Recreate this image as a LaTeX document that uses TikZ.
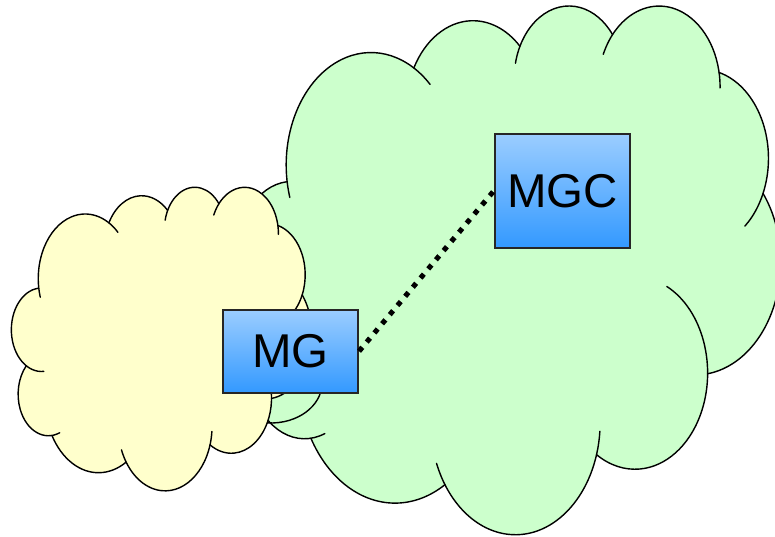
\documentclass[tikz,border=0pt]{standalone}
\usepackage{fontspec}
\setmainfont{Liberation Sans}

\definecolor{netgreen}{RGB}{204,255,204}
\definecolor{netyellow}{RGB}{255,255,204}
\definecolor{gatetop}{RGB}{155,205,255}
\definecolor{gatebottom}{RGB}{51,153,255}

% cloud outline in a 432 x 432 box, one lobe per entry:
% centre x / centre y / x radius / y radius / fill arc from / to / line from / to
\newcommand{\cloudlobes}{%
  105.91/131.32/67.53/91.90/-187.75/-59.63/-196.81/-45.74,%
  187.16/86.09/53.33/72.67/-152.05/-45.46/-152.05/-45.46,%
  263.63/60.83/43.65/59.45/-153.49/-37.35/-167.72/-37.35,%
  335.38/67.41/48.57/65.95/-139.71/-10.21/-156.29/0.82,%
  369.17/125.90/53.33/72.73/-74.77/23.21/-74.77/49.65,%
  364.45/210.70/67.75/92.20/-37.52/81.86/-37.52/81.86,%
  316.19/301.34/57.85/78.67/0.46/121.97/-64.03/121.97,%
  220.94/341.39/67.52/92.15/16.84/146.21/4.74/158.47,%
  125.05/302.28/77.20/105.43/58.98/150.20/58.98/150.20,%
  52.98/295.90/43.60/59.18/83.31/223.08/68.24/223.08,%
  43.09/204.20/43.45/59.45/120.36/264.11/85.55/264.11}

% fill the cloud, then stroke every lobe (the inner tails included)
\newcommand{\drawcloud}[1]{%
  \fill[#1] (39.00,143.70)
    \foreach \cx/\cy/\rx/\ry/\fa/\fb/\la/\lb in \cloudlobes {
      arc[start angle=\fa, end angle=\fb, x radius=\rx, y radius=\ry]
    } -- cycle;
  \foreach \cx/\cy/\rx/\ry/\fa/\fb/\la/\lb in \cloudlobes
    \draw[cloudline] (\cx,\cy) ++({\rx*cos(\la)},{\ry*sin(\la)})
      arc[start angle=\la, end angle=\lb, x radius=\rx, y radius=\ry];%
}

\begin{document}
\begin{tikzpicture}[
    x=0.02cm, y=-0.02cm,
    cloudline/.style={draw=black, line width=0.8pt, line cap=round},
    gatebox/.style={draw=black!85, line width=1.2pt, top color=gatetop, bottom color=gatebottom,
                    inner sep=0pt, font=\fontsize{27}{32}\selectfont},
    signal/.style={line width=2.9pt, dash pattern=on 2.9pt off 3.9pt},
]
\useasboundingbox (0,0) rectangle (775,537);

% --- Core network (green cloud, runs off the right edge) ---
\begin{scope}[shift={(238,4.3)}, x=0.025116cm, y=-0.024482cm]
  \drawcloud{netgreen}
\end{scope}
% lobe edge showing under the MG box
\draw[cloudline] (271,383) ++({51*cos(-15)},{40*sin(-15)})
  arc[start angle=-15, end angle=125, x radius=51, y radius=40];

% --- Access network (yellow cloud) ---
\begin{scope}[shift={(11.6,186.3)}, x=0.013903cm, y=-0.014056cm]
  \drawcloud{netyellow}
\end{scope}

% --- Gateway and controller ---
\node[gatebox, minimum width=2.70cm, minimum height=1.66cm] (mg) at (290.5,351.2) {MG};
\node[gatebox, minimum width=2.71cm, minimum height=2.28cm] (mgc) at (562.7,190.8) {MGC};

% --- Control link ---
\draw[signal] (mg.east) -- (mgc.west);

\end{tikzpicture}
\end{document}
